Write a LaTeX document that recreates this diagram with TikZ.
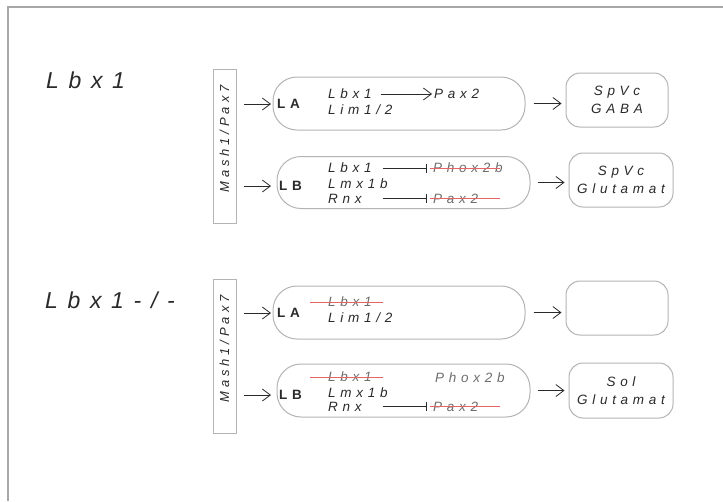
\documentclass[tikz,border=0pt]{standalone}
\usepackage{fontspec}
\setmainfont{Liberation Sans}
\newfontfamily\spc[LetterSpace=35]{Liberation Sans}
\newfontfamily\spcm[LetterSpace=30]{Liberation Sans}
\newfontfamily\spcbig[LetterSpace=42]{Liberation Sans}
\usetikzlibrary{arrows.meta}
\definecolor{txt}{HTML}{2A2A2A}
\definecolor{boxc}{HTML}{B4B4B4}
\definecolor{frm}{HTML}{A8A8A8}
\definecolor{strk}{HTML}{E86464}
\definecolor{grtxt}{HTML}{6E6E6E}
\begin{document}
\begin{tikzpicture}[x=1pt,y=-1pt,
  gene/.style={anchor=west, inner sep=0pt, text height=9.5pt, text depth=0pt, text=txt,
    font=\spc\itshape\fontsize{13.5}{15}\selectfont},
  ggene/.style={gene, text=grtxt},
  lbl/.style={anchor=west, inner sep=0pt, text height=9.5pt, text depth=0pt, text=txt,
    font=\spc\bfseries\fontsize{13.5}{15}\selectfont},
  big/.style={anchor=west, inner sep=0pt, text height=16pt, text depth=0pt, text=txt,
    font=\spcbig\itshape\fontsize{23}{26}\selectfont},
  lbox/.style={draw=boxc, line width=1pt, rounded corners=24pt, inner sep=0pt},
  rbox/.style={draw=boxc, line width=1pt, rounded corners=14pt, inner sep=0pt, align=center,
    text=txt, font=\spc\itshape\fontsize{13.5}{18}\selectfont},
  mbox/.style={draw=boxc, line width=1pt, inner sep=0pt},
  mtext/.style={inner sep=0pt, rotate=90, text=txt, font=\spcm\itshape\fontsize{13}{15}\selectfont},
  act/.style={draw=txt, line width=0.8pt, -{Straight Barb[length=8pt,width=12pt]}},
  inh/.style={draw=txt, line width=0.8pt, -{Bar[width=9pt]}},
  strike/.style={draw=strk, line width=1pt}
]
\useasboundingbox (0,0) rectangle (723,501);
\fill[white] (0,0) rectangle (723,501);
% frame
\coordinate (f1) at (723,7);
\coordinate (f2) at (8,7);
\coordinate (f3) at (8,501);
\draw[frm, line width=1.5pt] (f1) -- (f2) -- (f3);

% big labels
\node[big] (t1) at (46,80.5) {Lbx1};
\node[big] (t2) at (45,300) {Lbx1-/-};

% ---------- group 1 ----------
\node[mbox, minimum width=23pt, minimum height=154pt] (m1) at (224.5,146) {};
\node[mtext] (mt1) at (224.5,139) {Mash1/Pax7};

\node[lbox, minimum width=252pt, minimum height=53pt] (la1) at (399,103.5) {};
\node[lbox, minimum width=253pt, minimum height=52pt] (lb1) at (403.5,182.5) {};
\node[lbl] (LA1) at (277,104) {LA};
\node[lbl] (LB1) at (279,186) {LB};
\draw[act] ([xshift=7pt]m1.east |- LA1.west) -- ([xshift=-6pt]LA1.west);
\draw[act] ([xshift=7pt]m1.east |- LB1.west) -- ([xshift=-8pt]LB1.west);

\node[gene] (g1a) at (328,94) {Lbx1};
\node[gene] (g1b) at (328,110) {Lim1/2};
\node[gene] (g1c) at (434,94) {Pax2};
\draw[act] ([xshift=9pt]g1a.east) -- ([xshift=-2pt]g1c.west);

\node[gene] (g1d) at (328,168) {Lbx1};
\node[gene] (g1e) at (328,184) {Lmx1b};
\node[gene] (g1f) at (328,198.5) {Rnx};
\node[ggene] (g1g) at (433,168) {Phox2b};
\node[ggene] (g1h) at (433,198.5) {Pax2};
\draw[inh] ([xshift=11pt]g1d.east) -- ([xshift=-6pt]g1g.west);
\draw[inh] ([xshift=11pt]g1d.east |- g1f.east) -- ([xshift=-6pt]g1h.west);
\draw[strike] ([xshift=-3pt]g1g.west) -- ([xshift=-3pt]g1g.east);
\draw[strike] ([xshift=-3pt]g1h.west) -- ([xshift=-3pt]g1g.east |- g1h.east);

\node[rbox, minimum width=102pt, minimum height=54pt] (r1) at (617,100) {SpVc\\GABA};
\node[rbox, minimum width=104pt, minimum height=54pt] (r2) at (621,180) {SpVc\\Glutamat};
\draw[act] ([xshift=8pt]la1.east) -- ([xshift=-4pt]r1.west |- la1.east);
\draw[act] ([xshift=7pt]lb1.east) -- ([xshift=-4pt]r2.west |- lb1.east);

% ---------- group 2 ----------
\node[mbox, minimum width=23pt, minimum height=154pt] (m2) at (224.5,356) {};
\node[mtext] (mt2) at (224.5,349) {Mash1/Pax7};

\node[lbox, minimum width=252pt, minimum height=53pt] (la2) at (399,312.5) {};
\node[lbox, minimum width=253pt, minimum height=53pt] (lb2) at (403.5,390.5) {};
\node[lbl] (LA2) at (277,313) {LA};
\node[lbl] (LB2) at (279,395) {LB};
\draw[act] ([xshift=7pt]m2.east |- LA2.west) -- ([xshift=-6pt]LA2.west);
\draw[act] ([xshift=7pt]m2.east |- LB2.west) -- ([xshift=-8pt]LB2.west);

\node[ggene] (g2a) at (328,302) {Lbx1};
\node[gene] (g2b) at (328,318) {Lim1/2};
\draw[strike] ([xshift=-18pt]g2a.west) -- ([xshift=11pt]g2a.east);

\node[ggene] (g2d) at (328,377) {Lbx1};
\node[gene] (g2e) at (328,393) {Lmx1b};
\node[gene] (g2f) at (328,406.5) {Rnx};
\node[ggene] (g2g) at (435,378) {Phox2b};
\node[ggene] (g2h) at (433,406.5) {Pax2};
\draw[strike] ([xshift=-18pt]g2d.west) -- ([xshift=11pt]g2d.east);
\draw[inh] ([xshift=11pt]g2d.east |- g2f.east) -- ([xshift=-6pt]g2h.west);
\draw[strike] ([xshift=-3pt]g2h.west) -- ([xshift=-3pt]g1g.east |- g2h.east);

\node[rbox, minimum width=102pt, minimum height=54pt] (r3) at (617,308) {};
\node[rbox, minimum width=104pt, minimum height=55pt] (r4) at (621,390.5) {Sol\\Glutamat};
\draw[act] ([xshift=8pt]la2.east) -- ([xshift=-4pt]r3.west |- la2.east);
\draw[act] ([xshift=7pt]lb2.east) -- ([xshift=-4pt]r4.west |- lb2.east);
\end{tikzpicture}
\end{document}
